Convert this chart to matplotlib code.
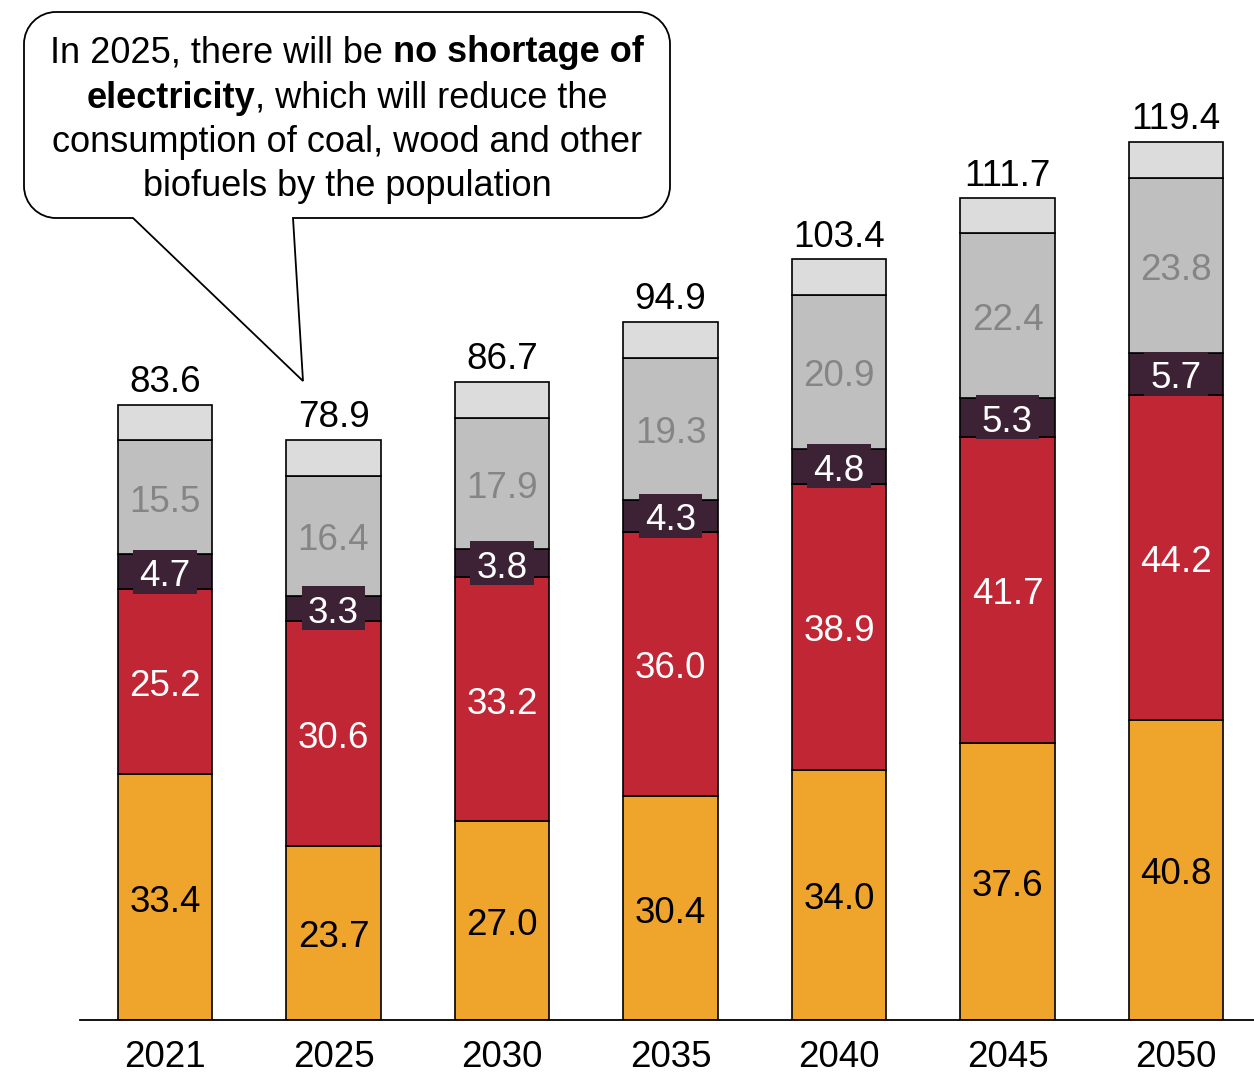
import matplotlib
matplotlib.use("Agg")
import matplotlib.pyplot as plt
from matplotlib.path import Path
from matplotlib.patches import PathPatch, Rectangle
from matplotlib.transforms import IdentityTransform
import numpy as np

plt.rcParams['font.family'] = ['Liberation Sans', 'DejaVu Sans']

years = ["2021", "2025", "2030", "2035", "2040", "2045", "2050"]
seg_orange = [33.4, 23.7, 27.0, 30.4, 34.0, 37.6, 40.8]
seg_red = [25.2, 30.6, 33.2, 36.0, 38.9, 41.7, 44.2]
seg_dark = [4.7, 3.3, 3.8, 4.3, 4.8, 5.3, 5.7]
seg_gray = [15.5, 16.4, 17.9, 19.3, 20.9, 22.4, 23.8]
totals = [83.6, 78.9, 86.7, 94.9, 103.4, 111.7, 119.4]
# remainder on top of each stack (unlabelled)
seg_light = [round(t - a - b - c - d, 1) for t, a, b, c, d in
             zip(totals, seg_orange, seg_red, seg_dark, seg_gray)]

c_orange = "#EFA42B"
c_red = "#C12634"
c_dark = "#3C2234"
c_gray = "#BFBFBF"
c_light = "#DCDCDC"

W, H = 1254, 1075
fig = plt.figure(figsize=(W / 100, H / 100), dpi=100)
ax = fig.add_axes([80 / W, (H - 1020) / H, (1254 - 80) / W, 1020 / H])

x = np.arange(len(years))
bw = 0.56
fs = 26.5

ax.set_xlim(-85 / 168.5, 6 + 78 / 168.5)
ax.set_ylim(0, 1020 / 7.355)
renderer = fig.canvas.get_renderer()

series = [(seg_orange, c_orange, "black", None),
          (seg_red, c_red, "white", None),
          (seg_dark, c_dark, "white", c_dark),
          (seg_gray, c_gray, "#858585", None),
          (seg_light, c_light, None, None)]

bottom = np.zeros(len(years))
for vals, col, tcol, boxcol in series:
    vals = np.array(vals)
    ax.bar(x, vals, bw, bottom=bottom, color=col, edgecolor="black",
           linewidth=1.2, zorder=2)
    if tcol is not None:
        for xi, b, v in zip(x, bottom, vals):
            txt = ax.annotate(f"{v:.1f}", (xi, b + v / 2), xytext=(0, -3.5),
                              textcoords="offset points", ha="center",
                              va="center", fontsize=fs, color=tcol, zorder=4)
            if boxcol is not None:
                # label backing box centred on the segment (display pixels)
                tw = txt.get_window_extent(renderer).width
                cxp, cyp = ax.transData.transform((xi, b + v / 2))
                bw_px, bh_px = tw + 12, 44
                ax.add_patch(Rectangle((cxp - bw_px / 2, cyp - bh_px / 2),
                                       bw_px, bh_px, facecolor=boxcol,
                                       edgecolor="none", zorder=3,
                                       transform=IdentityTransform(),
                                       clip_on=False))
    bottom += vals

for xi, t in zip(x, totals):
    ax.annotate(f"{t:.1f}", (xi, t), xytext=(0, 3.5), textcoords="offset points",
                ha="center", va="bottom", fontsize=fs, color="black")

ax.set_xticks(x)
ax.set_xticklabels(years, fontsize=fs)
ax.tick_params(axis="x", length=0, pad=14.5)
ax.set_yticks([])
for s in ["left", "right", "top"]:
    ax.spines[s].set_visible(False)
ax.spines["bottom"].set_linewidth(1.3)
ax.spines["bottom"].set_zorder(5)

# speech-bubble callout, drawn in figure pixel space
def fy(y):
    return H - y

L, R, T, B, r = 24, 670, 12, 218, 32
tail = [(293, fy(218)), (303, fy(381)), (133, fy(218))]
k = 0.5523
verts = [(L + r, fy(T)), (R - r, fy(T)),
         (R - r + k * r, fy(T)), (R, fy(T + r - k * r)), (R, fy(T + r)),
         (R, fy(B - r)),
         (R, fy(B - r + k * r)), (R - r + k * r, fy(B)), (R - r, fy(B)),
         tail[0], tail[1], tail[2],
         (L + r, fy(B)),
         (L + r - k * r, fy(B)), (L, fy(B - r + k * r)), (L, fy(B - r)),
         (L, fy(T + r)),
         (L, fy(T + r - k * r)), (L + r - k * r, fy(T)), (L + r, fy(T)),
         (L + r, fy(T))]
codes = [Path.MOVETO, Path.LINETO,
         Path.CURVE4, Path.CURVE4, Path.CURVE4,
         Path.LINETO,
         Path.CURVE4, Path.CURVE4, Path.CURVE4,
         Path.LINETO, Path.LINETO, Path.LINETO,
         Path.LINETO,
         Path.CURVE4, Path.CURVE4, Path.CURVE4,
         Path.LINETO,
         Path.CURVE4, Path.CURVE4, Path.CURVE4,
         Path.CLOSEPOLY]
bubble = PathPatch(Path(verts, codes), facecolor="white", edgecolor="black",
                   linewidth=1.3, transform=None, zorder=10)
fig.patches.append(bubble)

lines = [
    [("In 2025, there will be ", "normal"), ("no shortage of", "bold")],
    [("electricity", "bold"), (", which will reduce the", "normal")],
    [("consumption of coal, wood and other", "normal")],
    [("biofuels by the population", "normal")],
]
line_y = [53, 98, 142, 187]
cx = 347
for parts, yy in zip(lines, line_y):
    texts = []
    for s, wgt in parts:
        t = fig.text(0, 0, s, fontsize=26, fontweight=wgt, ha="left",
                     va="center", transform=None, zorder=11)
        texts.append(t)
    widths = [t.get_window_extent(renderer).width for t in texts]
    xs = cx - sum(widths) / 2
    for t, w in zip(texts, widths):
        t.set_position((xs, fy(yy)))
        xs += w

fig.savefig("out.png", dpi=100)
